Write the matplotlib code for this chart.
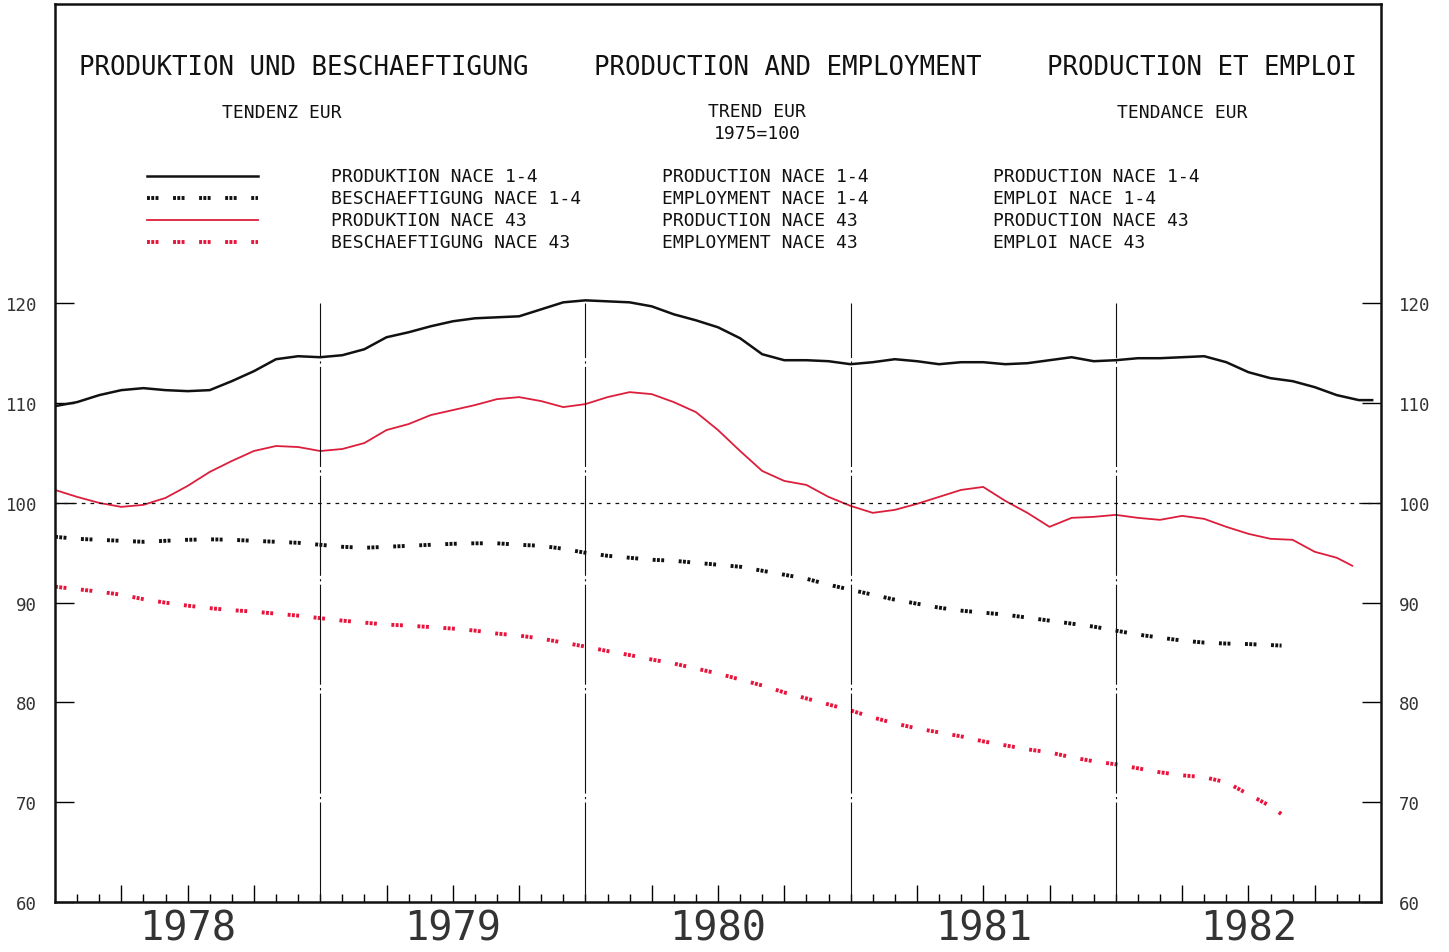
import numpy as np
import matplotlib.pyplot as plt
from matplotlib.lines import Line2D

# monthly trend indices, 1975=100, starting Jan 1978
prod_total = [109.7, 110.1, 110.8, 111.3, 111.5, 111.3, 111.2, 111.3, 112.2, 113.2,
              114.4, 114.7, 114.6, 114.8, 115.4, 116.6, 117.1, 117.7, 118.2, 118.5,
              118.6, 118.7, 119.4, 120.1, 120.3, 120.2, 120.1, 119.7, 118.9, 118.3,
              117.6, 116.5, 114.9, 114.3, 114.3, 114.2, 113.9, 114.1, 114.4, 114.2,
              113.9, 114.1, 114.1, 113.9, 114.0, 114.3, 114.6, 114.2, 114.3, 114.5,
              114.5, 114.6, 114.7, 114.1, 113.1, 112.5, 112.2, 111.6, 110.8, 110.3, 110.3]
prod_total_x = np.append(np.arange(60), 59.6)

empl_total = [96.6, 96.4, 96.3, 96.2, 96.1, 96.2, 96.3, 96.35, 96.3, 96.2,
              96.1, 96.0, 95.8, 95.6, 95.5, 95.6, 95.7, 95.8, 95.9, 95.95,
              95.95, 95.8, 95.7, 95.4, 95.0, 94.7, 94.5, 94.3, 94.2, 94.0,
              93.8, 93.6, 93.2, 92.8, 92.4, 91.8, 91.3, 90.8, 90.3, 89.9,
              89.5, 89.2, 89.0, 88.8, 88.5, 88.2, 87.9, 87.6, 87.2, 86.8,
              86.5, 86.2, 86.0, 85.9, 85.85, 85.75, 85.7]
empl_total_x = np.append(np.arange(56), 55.5)

prod_43 = [101.3, 100.6, 100.0, 99.6, 99.8, 100.5, 101.7, 103.1, 104.2, 105.2,
           105.7, 105.6, 105.2, 105.4, 106.0, 107.3, 107.9, 108.8, 109.3, 109.8,
           110.4, 110.6, 110.2, 109.6, 109.9, 110.6, 111.1, 110.9, 110.1, 109.1,
           107.3, 105.2, 103.2, 102.2, 101.8, 100.6, 99.7, 99.0, 99.3, 99.9,
           100.6, 101.3, 101.6, 100.2, 99.0, 97.6, 98.5, 98.6, 98.8, 98.5,
           98.3, 98.7, 98.4, 97.6, 96.9, 96.4, 96.3, 95.1, 94.5, 93.7]
prod_43_x = np.append(np.arange(59), 58.7)

empl_43 = [91.6, 91.35, 91.1, 90.8, 90.35, 90.0, 89.7, 89.45, 89.25, 89.1,
           88.9, 88.7, 88.45, 88.2, 88.0, 87.8, 87.7, 87.55, 87.4, 87.2,
           86.9, 86.7, 86.4, 86.0, 85.6, 85.15, 84.75, 84.3, 83.9, 83.4,
           82.9, 82.3, 81.7, 81.0, 80.4, 79.8, 79.2, 78.5, 77.9, 77.4,
           77.0, 76.6, 76.1, 75.7, 75.3, 75.0, 74.5, 74.1, 73.8, 73.4,
           73.0, 72.7, 72.5, 72.0, 70.8, 69.6, 68.8]
empl_43_x = np.append(np.arange(56), 55.5)

years = ['1978', '1979', '1980', '1981', '1982']
yticks = [60, 70, 80, 90, 100, 110, 120]

titles = ['PRODUKTION UND BESCHAEFTIGUNG', 'PRODUCTION AND EMPLOYMENT', 'PRODUCTION ET EMPLOI']
subtitles = ['TENDENZ EUR', 'TREND EUR\n1975=100', 'TENDANCE EUR']
labels_de = ['PRODUKTION NACE 1-4', 'BESCHAEFTIGUNG NACE 1-4', 'PRODUKTION NACE 43', 'BESCHAEFTIGUNG NACE 43']
labels_en = ['PRODUCTION NACE 1-4', 'EMPLOYMENT NACE 1-4', 'PRODUCTION NACE 43', 'EMPLOYMENT NACE 43']
labels_fr = ['PRODUCTION NACE 1-4', 'EMPLOI NACE 1-4', 'PRODUCTION NACE 43', 'EMPLOI NACE 43']

BLACK = '#111111'
RED = '#dc1e3c'
RED_DOT = '#e8143c'
dotted = (0, (0.75, 0.35, 0.75, 0.35, 0.75, 3.75))
styles = [dict(color=BLACK, lw=1.8, ls='-'),
          dict(color=BLACK, lw=2.8, ls=dotted),
          dict(color=RED, lw=1.3, ls='-'),
          dict(color=RED_DOT, lw=2.8, ls=dotted)]

plt.rcParams['font.family'] = ['DejaVu Sans Mono']
W, H = 1449, 953
fig = plt.figure(figsize=(W / 100, H / 100), dpi=100)
ax = fig.add_axes([55 / W, 1 - 903 / H, (1381 - 55) / W, (903 - 5) / H])
ax.set_xlim(0, 60)
ax.set_ylim(60, 150)

series = [(prod_total_x, prod_total), (empl_total_x, empl_total),
          (prod_43_x, prod_43), (empl_43_x, empl_43)]
for (x, y), st in zip(series, styles):
    ax.plot(x, y, solid_joinstyle='round', dash_capstyle='butt', **st)

ax.axhline(100, color=BLACK, lw=0.9, ls=(0, (3, 4)))
ax.vlines([12, 24, 36, 48], 60, 120, color=BLACK, lw=0.8, ls=(0, (90, 3, 2, 3)))

# axes styling
for s in ax.spines.values():
    s.set_linewidth(1.8)
    s.set_color(BLACK)
ax.set_yticks(yticks)
ax.tick_params(axis='y', direction='in', length=14, width=1, left=True, right=True,
               labelleft=True, labelright=True, pad=13, labelsize=12.5, labelcolor='#333333')
quarters = [m for m in range(3, 60, 3) if m % 12 != 0]
ax.set_xticks(quarters)
ax.set_xticks(range(1, 60), minor=True)
ax.tick_params(axis='x', which='major', direction='in', length=12, width=1, labelbottom=False)
ax.tick_params(axis='x', which='minor', direction='in', length=6, width=1)

for i, yr in enumerate(years):
    ax.text(12 * i + 6, -0.029, yr, transform=ax.get_xaxis_transform(),
            ha='center', va='center', fontsize=29, color='#333333')

# header block, positions in pixels of the 1449x953 canvas
def fx(px):
    return px / W

def fy(py):
    return 1 - py / H

for t, cx in zip(titles, [304, 788, 1202]):
    fig.text(fx(cx), fy(68), t, ha='center', va='center', fontsize=18.5, color=BLACK)
fig.text(fx(282), fy(113), subtitles[0], ha='center', va='center', fontsize=13, color=BLACK)
fig.text(fx(757), fy(123), subtitles[1], ha='center', va='center', fontsize=13,
         color=BLACK, linespacing=1.35)
fig.text(fx(1182), fy(113), subtitles[2], ha='center', va='center', fontsize=13, color=BLACK)

rows = [177, 199, 221, 243]
for r, st, de, en, fr in zip(rows, styles, labels_de, labels_en, labels_fr):
    fig.add_artist(Line2D([fx(147), fx(258)], [fy(r), fy(r)], transform=fig.transFigure,
                          dash_capstyle='butt', **st))
    fig.text(fx(331), fy(r), de, ha='left', va='center', fontsize=13, color=BLACK)
    fig.text(fx(662), fy(r), en, ha='left', va='center', fontsize=13, color=BLACK)
    fig.text(fx(993), fy(r), fr, ha='left', va='center', fontsize=13, color=BLACK)

fig.savefig('out.png', dpi=100)
